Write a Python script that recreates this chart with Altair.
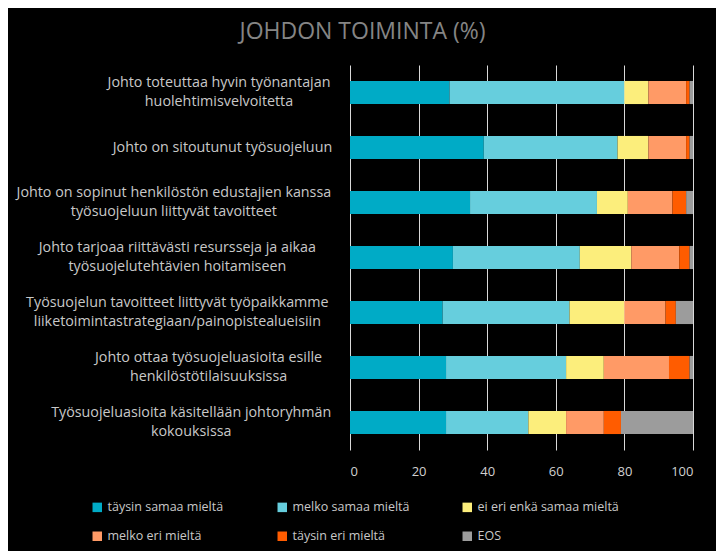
import altair as alt
import pandas as pd

categories = [
    "Johto toteuttaa hyvin työnantajan\nhuolehtimisvelvoitetta",
    "Johto on sitoutunut työsuojeluun",
    "Johto on sopinut henkilöstön edustajien kanssa\ntyösuojeluun liittyvät tavoitteet",
    "Johto tarjoaa riittävästi resursseja ja aikaa\ntyösuojelutehtävien hoitamiseen",
    "Työsuojelun tavoitteet liittyvät työpaikkamme\nliiketoimintastrategiaan/painopistealueisiin",
    "Johto ottaa työsuojeluasioita esille\nhenkilöstötilaisuuksissa",
    "Työsuojeluasioita käsitellään johtoryhmän\nkokouksissa",
]

series = [
    "täysin samaa mieltä",
    "melko samaa mieltä",
    "ei eri enkä samaa mieltä",
    "melko eri mieltä",
    "täysin eri mieltä",
    "EOS",
]

taysin_samaa = [29, 39, 35, 30, 27, 28, 28]
melko_samaa = [51, 39, 37, 37, 37, 35, 24]
ei_eri_eka = [7, 9, 9, 15, 16, 11, 11]
melko_eri = [11, 11, 13, 14, 12, 19, 11]
taysin_eri = [1, 1, 4, 3, 3, 6, 5]
eos = [1, 1, 2, 1, 5, 1, 21]

colors = ["#00ABC6", "#66CEDD", "#FCEE7C", "#FF9A66", "#FF5C00", "#9C9C9C"]

values = [taysin_samaa, melko_samaa, ei_eri_eka, melko_eri, taysin_eri, eos]
rows = []
for si, (s, vals) in enumerate(zip(series, values)):
    for c, v in zip(categories, vals):
        rows.append({"kysymys": c, "vastaus": s, "arvo": v, "jarjestys": si})
df = pd.DataFrame(rows)

lines = "split(datum.label, '\\n')"
# label centre offset: half of longest line (approx. char width) + gap
pad_expr = (f"17 + 3.47 * max(length({lines}[0]), "
            f"length({lines}[length({lines}) - 1]))")
off_expr = f"-9.5 * (length({lines}) - 1)"

chart = alt.Chart(df).mark_bar().encode(
    x=alt.X("arvo:Q", stack="zero",
            scale=alt.Scale(domain=[0, 100]),
            axis=alt.Axis(values=[0, 20, 40, 60, 80, 100], title=None,
                          grid=True, gridColor="#d9d9d9", gridWidth=1,
                          domain=False, ticks=False, labelPadding=15,
                          labelColor="#d0d0d0", labelFontSize=13,
                          labelFont="Open Sans")),
    y=alt.Y("kysymys:N", sort=categories, title=None,
            scale=alt.Scale(paddingInner=0.58, paddingOuter=0.29),
            axis=alt.Axis(domain=False, ticks=False, grid=False,
                          labelExpr=lines,
                          labelAlign="center",
                          labelPadding={"expr": pad_expr},
                          labelOffset={"expr": off_expr},
                          labelLineHeight=19, labelLimit=0,
                          labelColor="#c8c8c8", labelFontSize=14.3,
                          labelFont="Open Sans")),
    color=alt.Color("vastaus:N", sort=series,
                    scale=alt.Scale(domain=series, range=colors),
                    legend=alt.Legend(orient="none", legendX=-259, legendY=436,
                                      direction="horizontal", columns=3,
                                      gridAlign="all", columnPadding=27,
                                      rowPadding=16, symbolType="square",
                                      symbolSize=90, symbolStrokeWidth=0,
                                      title=None, labelColor="#c8c8c8",
                                      labelFontSize=12.5, labelFont="Open Sans",
                                      labelLimit=0)),
    order=alt.Order("jarjestys:Q"),
).properties(
    width=343,
    height=385,
    background="#000000",
    padding={"left": 342, "top": 57, "right": 23, "bottom": 101},
    autosize=alt.AutoSizeParams(type="none"),
    title=alt.TitleParams("JOHDON TOIMINTA (%)", anchor="middle", dx=-159,
                          offset=21, fontSize=23, font="Open Sans",
                          fontWeight="normal", color="#858585"),
).configure_view(stroke=None)

chart.save("out.html", embed_options={"renderer": "svg", "actions": False})
